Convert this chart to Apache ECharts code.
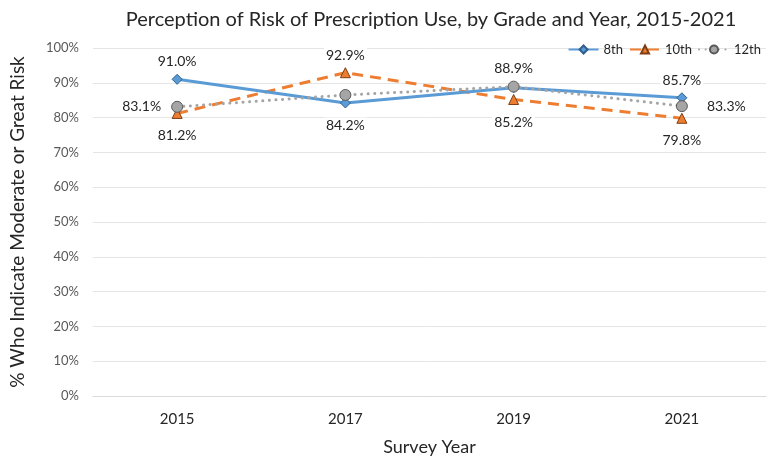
<!DOCTYPE html>
<html>
<head>
<meta charset="utf-8">
<script src="https://cdn.jsdelivr.net/npm/echarts@6/dist/echarts.min.js"></script>
<style>
  html, body { margin: 0; padding: 0; background: #fff; }
  #chart { width: 768px; height: 461px; }
</style>
</head>
<body>
<div id="chart"></div>
<script>
// survey years and values per grade
const years = ["2015", "2017", "2019", "2021"];
const grade8 = [91.0, 84.2, 88.6, 85.7];
const grade10 = [81.2, 92.9, 85.2, 79.8];
const grade12 = [83.1, 86.5, 88.9, 83.3];

// where each point's label sits (null = no label shown)
const pos8 = ["top", "bottom", null, "top"];
const pos10 = ["bottom", "top", "bottom", "bottom"];
const pos12 = ["left", null, "top", "right"];

const font = "Lato, 'Open Sans', sans-serif";
const gaps = { top: 4, bottom: 9, left: 8, right: 17 };

function pts(vals, positions) {
  return vals.map((v, i) => {
    const p = positions[i];
    return {
      value: v,
      label: p
        ? {
            show: true,
            position: p,
            distance: gaps[p],
            formatter: v.toFixed(1) + "%",
            color: "#262626",
            fontSize: 14,
            fontFamily: font,
            backgroundColor: "#fff",
            padding: [1, 2],
          }
        : { show: false },
    };
  });
}

const chart = echarts.init(document.getElementById("chart"));
chart.setOption({
  animation: false,
  title: {
    text: "Perception of Risk of Prescription Use, by Grade and Year, 2015-2021",
    left: 426,
    top: 5,
    textAlign: "center",
    textStyle: { fontSize: 20, fontWeight: "normal", color: "#262626", fontFamily: font },
  },
  legend: {
    right: 2,
    top: 38,
    itemWidth: 30,
    itemHeight: 10,
    itemGap: 6,
    textStyle: { fontSize: 13, color: "#262626", fontFamily: font },
    data: ["8th", "10th", "12th"],
  },
  grid: { left: 88, right: 2, top: 48, bottom: 64 },
  xAxis: {
    type: "category",
    data: years,
    name: "Survey Year",
    nameLocation: "middle",
    nameGap: 42,
    nameTextStyle: { fontSize: 18, color: "#262626", fontFamily: font },
    axisLine: { lineStyle: { color: "#d9d9d9" } },
    axisTick: { show: false },
    axisLabel: { fontSize: 15, color: "#262626", fontFamily: font, margin: 16 },
  },
  yAxis: {
    type: "value",
    min: 0,
    max: 100,
    interval: 10,
    name: "% Who Indicate Moderate or Great Risk",
    nameLocation: "middle",
    nameGap: 66,
    nameTextStyle: { fontSize: 19, color: "#262626", fontFamily: font },
    axisLabel: { formatter: "{value}%", fontSize: 13, color: "#595959", fontFamily: font, margin: 14 },
    splitLine: { lineStyle: { color: "#e5e5e5" } },
  },
  series: [
    {
      name: "8th",
      type: "line",
      data: pts(grade8, pos8),
      symbol: "diamond",
      symbolSize: 10,
      color: "#5b9bd5",
      lineStyle: { width: 3, color: "#5b9bd5" },
      itemStyle: { color: "#5b9bd5", borderColor: "#2f5f8f", borderWidth: 1 },
      z: 3,
    },
    {
      name: "10th",
      type: "line",
      data: pts(grade10, pos10),
      symbol: "triangle",
      symbolSize: 10,
      color: "#ed7d31",
      lineStyle: { width: 3, type: [11, 7], color: "#ed7d31" },
      itemStyle: { color: "#ed7d31", borderColor: "#7f3f12", borderWidth: 1 },
      z: 2,
    },
    {
      name: "12th",
      type: "line",
      data: pts(grade12, pos12),
      symbol: "circle",
      symbolSize: 11,
      color: "#a5a5a5",
      lineStyle: { width: 3, type: [0.1, 6.5], cap: "round", color: "#a5a5a5" },
      itemStyle: { color: "#a5a5a5", borderColor: "#595959", borderWidth: 1 },
      z: 4,
    },
  ],
});
</script>
</body>
</html>
